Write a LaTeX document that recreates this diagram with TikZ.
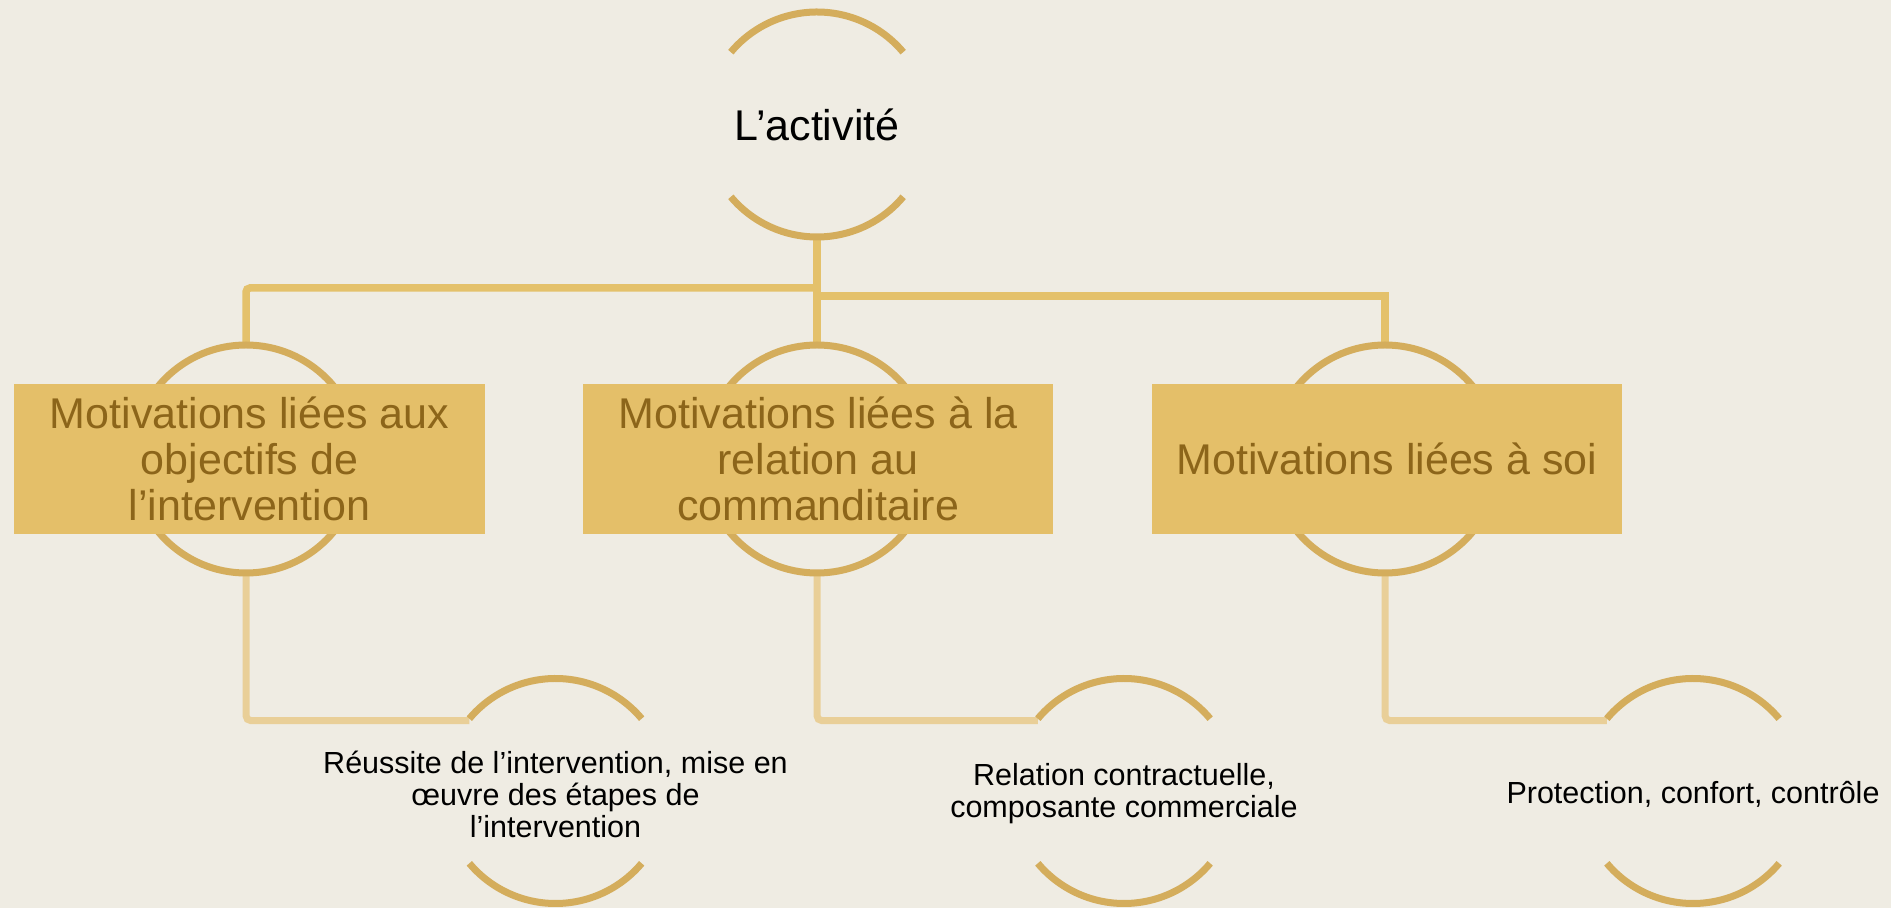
\documentclass[tikz,border=0pt]{standalone}
\usepackage{fontspec}
\setmainfont{Liberation Sans}
\usetikzlibrary{calc}
\definecolor{paper}{RGB}{239,236,227}
\definecolor{ringgold}{RGB}{212,173,92}
\definecolor{linkgold}{RGB}{228,193,107}
\definecolor{sublinkgold}{RGB}{233,207,152}
\definecolor{boxgold}{RGB}{228,191,105}
\definecolor{boxtext}{RGB}{140,101,26}
\begin{document}
\begin{tikzpicture}[x=1bp,y=1bp,
  hub/.style={circle, inner sep=0pt, outer sep=0pt, minimum size=#1},
  ringline/.style={draw=ringgold, line width=7bp},
  link/.style={draw=linkgold, line width=7.5bp},
  sublink/.style={draw=sublinkgold, line width=7bp, rounded corners=5bp},
  topic/.style={rectangle, fill=boxgold, text=boxtext, minimum width=470bp,
    minimum height=150bp, inner sep=0pt, align=center,
    font=\fontsize{43bp}{46bp}\selectfont},
  leaf/.style={align=center, text=black, yshift=-3bp,
    font=\fontsize{30.5bp}{32bp}\selectfont},
  rootlabel/.style={text=black, font=\fontsize{43bp}{50bp}\selectfont}]

\fill[paper] (0,0) rectangle (1891,908);
\useasboundingbox (0,0) rectangle (1891,908);

% circle hubs (no ink of their own)
\node[hub=225bp] (root) at (817,783.5) {};
\node[hub=228bp] (r1) at (246,449) {};
\node[hub=228bp] (r2) at (817,449) {};
\node[hub=228bp] (r3) at (1385,449) {};
\node[hub=225bp] (l1) at (555.5,117) {};
\node[hub=225bp] (l2) at (1124,117) {};
\node[hub=225bp] (l3) at (1693,117) {};
\coordinate (jl) at (817,620);
\coordinate (jr) at (817,612);

% connectors from the root to the three topics
\draw[link, rounded corners=4bp] (root.south) -- (jl) -| (r1.north);
\draw[link] (root.south) -- (r2.north);
\draw[link] (root.south) -- (jr) -| (r3.north);

% connectors from each topic to its detail
\foreach \t/\d in {r1/l1,r2/l2,r3/l3}{
  \coordinate (\d-in) at ($(\d.140)+(0,-2bp)$);
  \draw[sublink] (\t.south) |- (\d-in);
}

% root arcs
\draw[ringline] (root.40) arc[start angle=40, end angle=140, radius=112.5bp];
\draw[ringline] (root.-140) arc[start angle=-140, end angle=-40, radius=112.5bp];
\node[rootlabel] (rootText) at (root) {L’activité};

% topic rings and boxes
\draw[ringline] (r1) circle[radius=114bp];
\draw[ringline] (r2) circle[radius=114bp];
\draw[ringline] (r3) circle[radius=114bp];
\node[topic] (b1) at (249.5,449) {Motivations liées aux\\objectifs de\\l’intervention};
\node[topic] (b2) at (818,449) {Motivations liées à la\\relation au\\commanditaire};
\node[topic] (b3) at (1387,449) {Motivations liées à soi};

% detail arcs and labels
\foreach \n in {l1,l2,l3}{
  \draw[ringline] (\n.40) arc[start angle=40, end angle=140, radius=112.5bp];
  \draw[ringline] (\n.-140) arc[start angle=-140, end angle=-40, radius=112.5bp];
}
\node[leaf] (t1) at (l1) {Réussite de l’intervention, mise en\\œuvre des étapes de\\l’intervention};
\node[leaf] (t2) at (l2) {Relation contractuelle,\\composante commerciale};
\node[leaf] (t3) at (l3) {Protection, confort, contrôle};
\end{tikzpicture}
\end{document}
